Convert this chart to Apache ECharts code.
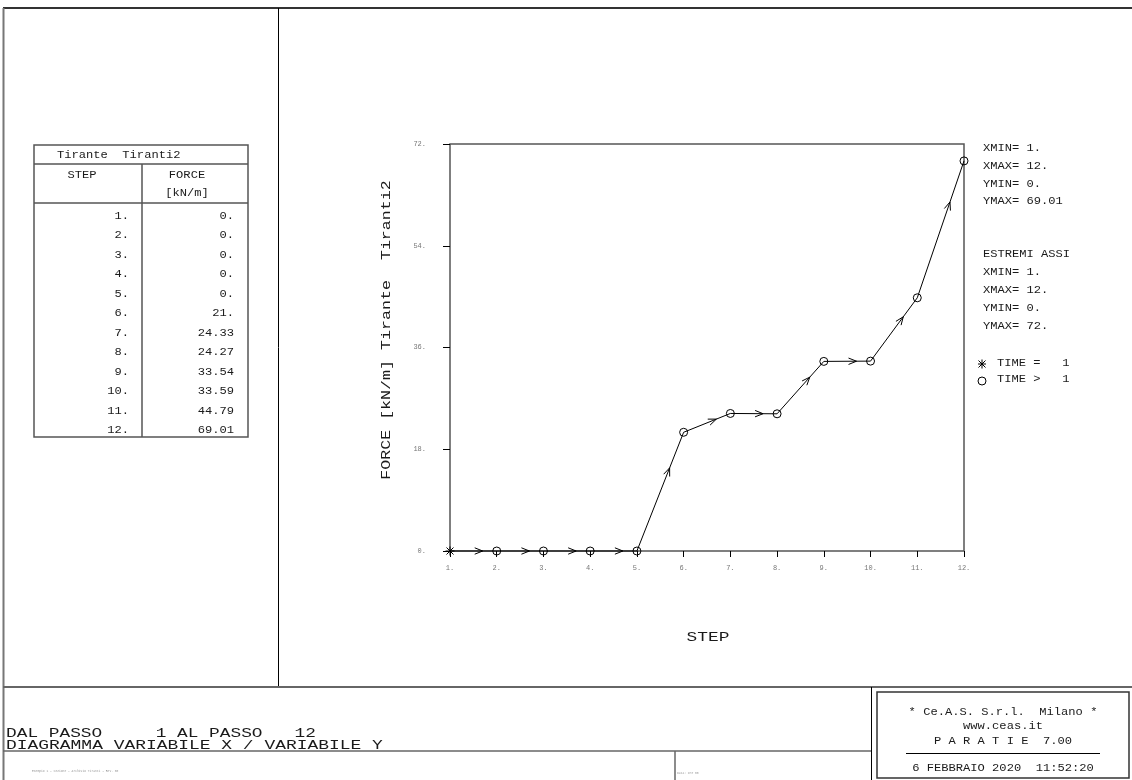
<!DOCTYPE html>
<html>
<head>
<meta charset="utf-8">
<script src="https://cdn.jsdelivr.net/npm/echarts@6/dist/echarts.min.js"></script>
<style>
html,body{margin:0;padding:0;background:#fff;}
#chart{width:1132px;height:780px;}
</style>
</head>
<body>
<div id="chart"></div>
<script>
// ---- data ----
const steps = [1, 2, 3, 4, 5, 6, 7, 8, 9, 10, 11, 12];
const force = [0, 0, 0, 0, 0, 21, 24.33, 24.27, 33.54, 33.59, 44.79, 69.01];
const stepLabels = ['1.', '2.', '3.', '4.', '5.', '6.', '7.', '8.', '9.', '10.', '11.', '12.'];
const forceLabels = ['0.', '0.', '0.', '0.', '0.', '21.', '24.33', '24.27', '33.54', '33.59', '44.79', '69.01'];
const xRange = [1, 12];
const yRange = [0, 72];
const yStep = 18;
const infoLines = ['XMIN= 1.', 'XMAX= 12.', 'YMIN= 0.', 'YMAX= 69.01'];
const axisLines = ['XMIN= 1.', 'XMAX= 12.', 'YMIN= 0.', 'YMAX= 72.'];

const MONO = '"Liberation Mono", "DejaVu Sans Mono", monospace';

function T(text, x, y, o) {
  o = o || {};
  return {
    type: 'text', x: x, y: y, z: 10,
    scaleX: o.sx || 1.1,
    rotation: o.rot || 0,
    silent: true,
    style: {
      text: text,
      font: (o.size || 11) + 'px ' + MONO,
      fill: o.fill || '#1a1a1a',
      textAlign: o.align || 'left',
      textVerticalAlign: 'middle'
    }
  };
}
function L(x1, y1, x2, y2, c, w) {
  return { type: 'line', silent: true, z: 5, shape: { x1, y1, x2, y2 }, style: { stroke: c || '#000', lineWidth: w || 1 } };
}

const g = [];
// frame
g.push(L(3, 8, 1132, 8, '#333', 2));
g.push(L(3.5, 8, 3.5, 780, '#777', 2));
g.push(L(278.5, 8, 278.5, 687, '#000', 1));
g.push(L(3, 687, 1132, 687, '#666', 2));
g.push(L(3, 751, 871, 751, '#666', 1.5));
g.push(L(871.5, 687, 871.5, 780, '#000', 1));
g.push(L(675, 751, 675, 780, '#666', 1.5));
g.push({ type: 'rect', silent: true, z: 5, shape: { x: 877, y: 692, width: 252, height: 86 }, style: { fill: null, stroke: '#333', lineWidth: 1.5 } });
g.push(L(906, 753.5, 1100, 753.5, '#000', 1));

// table
g.push({ type: 'rect', silent: true, z: 5, shape: { x: 34, y: 145, width: 214, height: 292 }, style: { fill: null, stroke: '#555', lineWidth: 1.5 } });
g.push(L(34, 164, 248, 164, '#555', 1.5));
g.push(L(142, 164, 142, 437, '#555', 1.5));
g.push(L(34, 203, 248, 203, '#555', 1.5));
g.push(T('Tirante  Tiranti2', 57, 155));
g.push(T('STEP', 82, 175, { align: 'center' }));
g.push(T('FORCE', 187, 175, { align: 'center' }));
g.push(T('[kN/m]', 187, 193, { align: 'center' }));
steps.forEach(function (s, i) {
  const yy = 216 + i * 19.5;
  g.push(T(stepLabels[i], 129, yy, { align: 'right' }));
  g.push(T(forceLabels[i], 234, yy, { align: 'right' }));
});

// right legend
infoLines.forEach(function (t, i) { g.push(T(t, 983, 148 + i * 17.8)); });
g.push(T('ESTREMI ASSI', 983, 254));
axisLines.forEach(function (t, i) { g.push(T(t, 983, 272 + i * 18)); });
g.push(T('TIME =   1', 997, 363));
g.push(T('TIME >   1', 997, 379));
// legend symbols
g.push(L(978, 364, 986, 364, '#000', 1));
g.push(L(982, 359.5, 982, 368.5, '#000', 1));
g.push(L(978.5, 360.5, 985.5, 367.5, '#000', 1));
g.push(L(985.5, 360.5, 978.5, 367.5, '#000', 1));
g.push({ type: 'circle', silent: true, z: 10, shape: { cx: 982, cy: 381, r: 4 }, style: { fill: null, stroke: '#000', lineWidth: 1 } });

// axis titles
g.push(T('FORCE [kN/m] Tirante  Tiranti2', 387, 330, { size: 13, sx: 1.28, rot: Math.PI / 2, align: 'center' }));
g.push(T('STEP', 708, 638, { size: 13, sx: 1.37, align: 'center' }));

// bottom texts
g.push(T('DAL PASSO     1 AL PASSO   12', 6, 733.5, { size: 13, sx: 1.37 }));
g.push(T('DIAGRAMMA VARIABILE X / VARIABILE Y', 6, 745.5, { size: 13, sx: 1.38 }));
g.push(T('Esempio 1 - Sezione - Archivio Tiranti - Rev. 00', 32, 771, { size: 3, sx: 1, fill: '#999' }));
g.push(T('Data: ore 00', 677, 773, { size: 3, sx: 1, fill: '#999' }));

// title block
g.push(T('* Ce.A.S. S.r.l.  Milano *', 1003, 712, { align: 'center' }));
g.push(T('www.ceas.it', 1003, 726, { align: 'center' }));
g.push(T('P A R A T I E  7.00', 1003, 741, { align: 'center' }));
g.push(T('6 FEBBRAIO 2020  11:52:20', 1003, 768, { align: 'center' }));

// segment data
const segs = [];
for (let i = 1; i < steps.length; i++) segs.push([steps[i - 1], force[i - 1], steps[i], force[i]]);
const circles = steps.slice(1).map(function (s, i) { return [s, force[i + 1]]; });
const firstPt = [[steps[0], force[0]]];

const chart = echarts.init(document.getElementById('chart'), null, { renderer: 'canvas' });
chart.setOption({
  animation: false,
  backgroundColor: '#fff',
  grid: { left: 450, top: 144, width: 514, height: 407, show: true, borderColor: '#555', borderWidth: 1.5, backgroundColor: 'transparent' },
  xAxis: {
    type: 'value', min: xRange[0], max: xRange[1], interval: 1,
    splitLine: { show: false },
    axisLine: { show: false },
    axisTick: { show: true, length: 6, lineStyle: { color: '#000', width: 1 } },
    axisLabel: { formatter: function (v) { return v + '.'; }, fontSize: 7, color: '#777', fontFamily: MONO, margin: 14 }
  },
  yAxis: {
    type: 'value', min: yRange[0], max: yRange[1], interval: yStep,
    splitLine: { show: false },
    axisLine: { show: false },
    axisTick: { show: true, length: 7, lineStyle: { color: '#000', width: 1 } },
    axisLabel: { formatter: function (v) { return v + '.'; }, fontSize: 7, color: '#777', fontFamily: MONO, margin: 24 }
  },
  series: [
    {
      type: 'custom',
      data: segs,
      encode: { x: [0, 2], y: [1, 3] },
      clip: false,
      z: 3,
      renderItem: function (params, api) {
        const p0 = api.coord([api.value(0), api.value(1)]);
        const p1 = api.coord([api.value(2), api.value(3)]);
        const dx = p1[0] - p0[0], dy = p1[1] - p0[1];
        const len = Math.sqrt(dx * dx + dy * dy);
        const ux = dx / len, uy = dy / len;
        const t = [p0[0] + dx * 0.7, p0[1] + dy * 0.7];
        const AL = 8, AW = 3.2;
        const a1 = [t[0] - ux * AL - uy * AW, t[1] - uy * AL + ux * AW];
        const a2 = [t[0] - ux * AL + uy * AW, t[1] - uy * AL - ux * AW];
        return {
          type: 'group', children: [
            { type: 'line', shape: { x1: p0[0], y1: p0[1], x2: p1[0], y2: p1[1] }, style: { stroke: '#000', lineWidth: 1 } },
            { type: 'polyline', shape: { points: [a1, t, a2] }, style: { stroke: '#000', lineWidth: 1, fill: null } }
          ]
        };
      }
    },
    {
      type: 'scatter',
      data: circles,
      symbol: 'circle',
      symbolSize: 8,
      z: 4,
      itemStyle: { color: 'rgba(0,0,0,0)', borderColor: '#000', borderWidth: 1, opacity: 1 }
    },
    {
      type: 'custom',
      data: firstPt,
      encode: { x: 0, y: 1 },
      clip: false,
      z: 4,
      renderItem: function (params, api) {
        const p = api.coord([api.value(0), api.value(1)]);
        const r = 4.5, d = 3.5;
        const st = { stroke: '#000', lineWidth: 1 };
        return {
          type: 'group', children: [
            { type: 'line', shape: { x1: p[0] - r, y1: p[1], x2: p[0] + r, y2: p[1] }, style: st },
            { type: 'line', shape: { x1: p[0], y1: p[1] - r, x2: p[0], y2: p[1] + r }, style: st },
            { type: 'line', shape: { x1: p[0] - d, y1: p[1] - d, x2: p[0] + d, y2: p[1] + d }, style: st },
            { type: 'line', shape: { x1: p[0] + d, y1: p[1] - d, x2: p[0] - d, y2: p[1] + d }, style: st }
          ]
        };
      }
    }
  ],
  graphic: { elements: g }
});
</script>
</body>
</html>
